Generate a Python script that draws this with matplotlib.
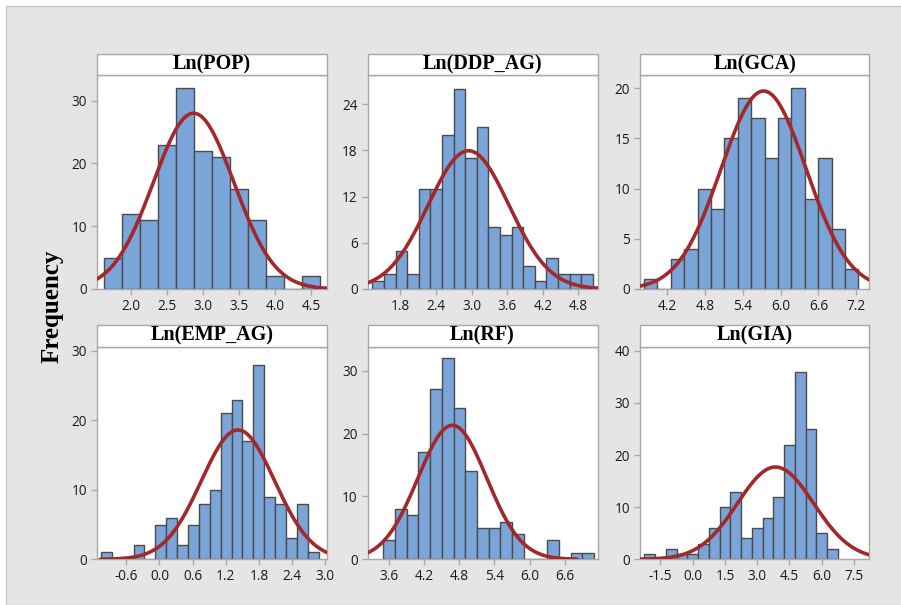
import numpy as np
import matplotlib
matplotlib.use("Agg")
import matplotlib.pyplot as plt
from matplotlib.patches import Rectangle
from matplotlib.ticker import FixedLocator, FixedFormatter

# ---------------- data ----------------
titles = ["Ln(POP)", "Ln(DDP_AG)", "Ln(GCA)", "Ln(EMP_AG)", "Ln(RF)", "Ln(GIA)"]

counts_pop = [5, 12, 11, 23, 32, 22, 21, 16, 11, 2, 0, 2]
counts_ddp = [1, 2, 5, 2, 13, 13, 20, 26, 17, 21, 8, 7, 8, 3, 1, 4, 2, 2, 2]
counts_gca = [1, 0, 3, 4, 10, 8, 15, 19, 17, 13, 17, 20, 9, 13, 6, 2]
counts_emp = [1, 0, 0, 2, 0, 5, 6, 2, 5, 8, 10, 21, 23, 17, 28, 9, 8, 3, 8, 1]
counts_rf = [3, 8, 7, 17, 27, 32, 24, 14, 5, 5, 6, 4, 0, 0, 3, 0, 1, 1]
counts_gia = [1, 0, 2, 1, 1, 3, 6, 10, 13, 4, 6, 8, 12, 22, 36, 25, 5, 2]

bin_start = [1.625, 1.334, 3.83, -1.06, 3.5, -2.25]
bin_width = [0.25, 0.195, 0.213, 0.197, 0.2, 0.5]

fit_mean = [2.87, 2.95, 5.73, 1.42, 4.68, 3.85]
fit_sd = [0.559, 0.68, 0.677, 0.663, 0.588, 1.77]

xticks_pop = ["2.0", "2.5", "3.0", "3.5", "4.0", "4.5"]
xticks_ddp = ["1.8", "2.4", "3.0", "3.6", "4.2", "4.8"]
xticks_gca = ["4.2", "4.8", "5.4", "6.0", "6.6", "7.2"]
xticks_emp = ["-0.6", "0.0", "0.6", "1.2", "1.8", "2.4", "3.0"]
xticks_rf = ["3.6", "4.2", "4.8", "5.4", "6.0", "6.6"]
xticks_gia = ["-1.5", "0.0", "1.5", "3.0", "4.5", "6.0", "7.5"]

yticks_pop = [0, 10, 20, 30]
yticks_ddp = [0, 6, 12, 18, 24]
yticks_gca = [0, 5, 10, 15, 20]
yticks_emp = [0, 10, 20, 30]
yticks_rf = [0, 10, 20, 30]
yticks_gia = [0, 10, 20, 30, 40]

counts = [counts_pop, counts_ddp, counts_gca, counts_emp, counts_rf, counts_gia]
xtick_labels = [xticks_pop, xticks_ddp, xticks_gca, xticks_emp, xticks_rf, xticks_gia]
ytick_vals = [yticks_pop, yticks_ddp, yticks_gca, yticks_emp, yticks_rf, yticks_gia]

# ---------------- layout / style ----------------
xlims = [(1.53, 4.72), (1.25, 5.12), (3.766, 7.41), (-1.13, 3.03), (3.23, 7.16), (-2.45, 8.21)]
ylims = [34.1, 27.8, 21.3, 30.6, 33.8, 40.77]
curve_range = [None, None, None, (-1.07, None), (None, 6.81), None]

W, H = 901, 605
col_x = [(97, 327), (367.5, 597.5), (640, 869.3)]
row_y = [(75, 289), (346.7, 559.3)]
title_h = [21, 21.7]

BAR = "#7ba4d9"
EDGE = "#4b4b4b"
CURVE = "#a3282c"
SPINE = "#a8a8a8"
BG = "#e5e5e5"

fig = plt.figure(figsize=(W / 100, H / 100), dpi=100)
fig.patch.set_facecolor("white")
fig.patches.append(Rectangle((6 / W, 0), 1, 1 - 6 / H, transform=fig.transFigure,
                             facecolor=BG, edgecolor="#c8c8c8", linewidth=1.0, zorder=-10))

tick_family = ["Open Sans", "DejaVu Sans"]
tick_size = 9.8

for i in range(6):
    r, c = divmod(i, 3)
    x0, x1 = col_x[c]
    y0, y1 = row_y[r]
    ax = fig.add_axes([x0 / W, 1 - y1 / H, (x1 - x0) / W, (y1 - y0) / H])
    ax.set_facecolor("white")

    cts = np.array(counts[i])
    edges = bin_start[i] + bin_width[i] * np.arange(len(cts) + 1)
    ax.bar(edges[:-1], cts, width=bin_width[i], align="edge", color=BAR,
           edgecolor=EDGE, linewidth=1.0, zorder=2)

    lo, hi = xlims[i]
    cr = curve_range[i]
    cx0 = lo if (cr is None or cr[0] is None) else cr[0]
    cx1 = hi if (cr is None or cr[1] is None) else cr[1]
    xs = np.linspace(cx0, cx1, 400)
    n = cts.sum()
    ys = n * bin_width[i] / (fit_sd[i] * np.sqrt(2 * np.pi)) * np.exp(-0.5 * ((xs - fit_mean[i]) / fit_sd[i]) ** 2)
    ax.plot(xs, ys, color=CURVE, linewidth=2.6, zorder=3, solid_capstyle="round")

    ax.set_xlim(lo, hi)
    ax.set_ylim(0, ylims[i])

    xt = [float(s) for s in xtick_labels[i]]
    ax.xaxis.set_major_locator(FixedLocator(xt))
    ax.xaxis.set_major_formatter(FixedFormatter(xtick_labels[i]))
    ax.yaxis.set_major_locator(FixedLocator(ytick_vals[i]))
    ax.yaxis.set_major_formatter(FixedFormatter([str(v) for v in ytick_vals[i]]))

    ax.tick_params(axis="both", direction="out", length=4, width=1, color=SPINE,
                   labelcolor="#1a1a1a", pad=3)
    for lab in ax.get_xticklabels() + ax.get_yticklabels():
        lab.set_fontfamily(tick_family)
        lab.set_fontsize(tick_size)
    for sp in ax.spines.values():
        sp.set_color(SPINE)
        sp.set_linewidth(1.0)

    th = title_h[r] / (y1 - y0)
    ax.add_patch(Rectangle((0, 1), 1, th, transform=ax.transAxes, facecolor="white",
                           edgecolor=SPINE, linewidth=1.0, clip_on=False, zorder=5))
    ax.text(0.5, 1 + th / 2, titles[i], transform=ax.transAxes, ha="center", va="center",
            fontsize=14.5, fontweight="bold", family=["Liberation Serif", "DejaVu Serif"],
            zorder=6)

fig.text(51.7 / W, 1 - 306 / H, "Frequency", rotation=90, ha="center", va="center",
         fontsize=18, fontweight="bold", family=["Liberation Serif", "DejaVu Serif"])

fig.savefig("out.png", dpi=100)
